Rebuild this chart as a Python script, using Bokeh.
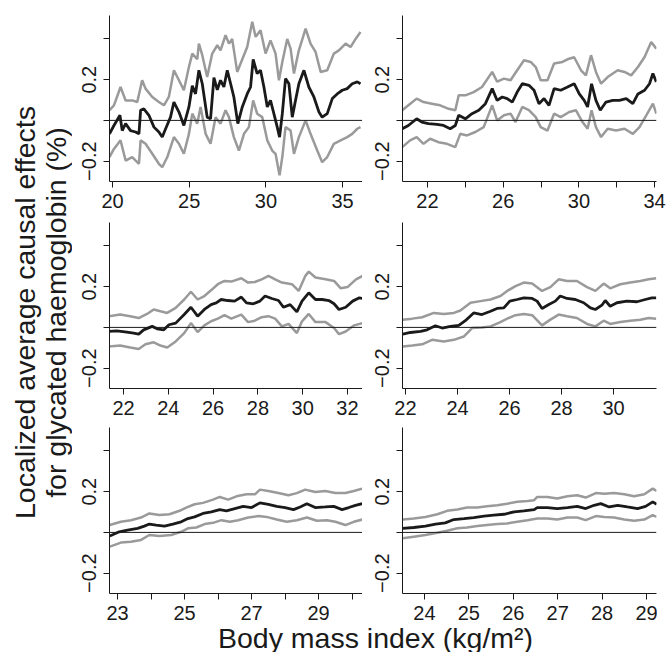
import math
from bokeh.plotting import figure
from bokeh.models import Range1d, FixedTicker, Span, Label
from bokeh.layouts import row, column
from bokeh.embed import file_html
from bokeh.resources import INLINE

# ---------------- data ----------------
# Panel 1
p1_bmi_est = [19.80, 20.09, 20.48, 20.63, 20.85, 21.17, 21.50, 21.72, 21.83, 22.04, 22.37, 22.70, 23.02, 23.24, 23.46, 23.78, 24.00, 24.33, 24.65, 24.98, 25.20, 25.41, 25.63, 25.85, 26.17, 26.39, 26.61, 26.83, 27.04, 27.26, 27.48, 27.70, 27.91, 28.17, 28.46, 28.78, 29.00, 29.17, 29.43, 29.65, 29.87, 30.09, 30.30, 30.52, 30.74, 30.89, 31.07, 31.28, 31.50, 31.72, 31.93, 32.15, 32.48, 32.80, 33.13, 33.46, 33.67, 34.00, 34.33, 34.65, 34.98, 35.30, 35.63, 35.96, 36.17]
p1_est = [-0.066, -0.025, 0.025, -0.05, -0.016, -0.05, -0.057, -0.066, 0.05, 0.057, 0.025, -0.033, -0.057, -0.082, -0.041, 0.016, 0.09, 0.041, -0.025, 0.066, 0.17, 0.13, 0.246, 0.18, 0.016, 0.008, 0.21, 0.15, 0.197, 0.164, 0.246, 0.18, 0.115, -0.016, 0.066, 0.13, 0.164, 0.30, 0.23, 0.246, 0.164, 0.066, 0.098, 0.033, -0.033, -0.082, 0.033, 0.205, 0.18, 0.016, 0.098, 0.18, 0.246, 0.164, 0.115, 0.041, 0.016, 0.033, 0.107, 0.13, 0.148, 0.156, 0.18, 0.189, 0.18]
p1_bmi_hi = [19.80, 20.09, 20.52, 20.85, 21.28, 21.61, 21.93, 22.15, 22.59, 23.02, 23.35, 23.67, 24.00, 24.33, 24.65, 24.98, 25.20, 25.52, 25.63, 25.85, 26.17, 26.50, 26.83, 27.04, 27.37, 27.59, 27.80, 28.13, 28.46, 28.78, 29.11, 29.33, 29.65, 29.98, 30.30, 30.63, 30.85, 31.07, 31.39, 31.61, 31.83, 32.15, 32.59, 32.91, 33.24, 33.57, 34.00, 34.43, 34.76, 35.20, 35.52, 35.85, 36.17]
p1_hi = [0.05, 0.074, 0.164, 0.098, 0.098, 0.09, 0.197, 0.156, 0.115, 0.09, 0.074, 0.115, 0.246, 0.197, 0.148, 0.262, 0.328, 0.30, 0.377, 0.32, 0.213, 0.328, 0.369, 0.344, 0.418, 0.377, 0.40, 0.238, 0.30, 0.36, 0.484, 0.41, 0.443, 0.328, 0.393, 0.328, 0.197, 0.287, 0.40, 0.352, 0.23, 0.344, 0.45, 0.377, 0.336, 0.238, 0.246, 0.328, 0.344, 0.377, 0.36, 0.40, 0.434]
p1_bmi_lo = [19.80, 20.09, 20.52, 20.85, 21.28, 21.72, 21.83, 22.15, 22.59, 23.02, 23.24, 23.57, 24.00, 24.33, 24.65, 24.98, 25.20, 25.52, 25.74, 26.07, 26.39, 26.72, 27.04, 27.37, 27.59, 27.91, 28.24, 28.57, 28.89, 29.17, 29.43, 29.76, 30.09, 30.41, 30.63, 30.89, 31.07, 31.28, 31.61, 31.83, 32.15, 32.59, 32.91, 33.35, 33.67, 34.00, 34.43, 34.87, 35.30, 35.63, 35.96, 36.17]
p1_lo = [-0.18, -0.14, -0.098, -0.197, -0.18, -0.213, -0.098, -0.115, -0.164, -0.213, -0.23, -0.18, -0.082, -0.115, -0.164, -0.066, 0.033, -0.016, 0.066, -0.066, -0.115, 0.016, -0.016, 0.05, 0.016, -0.082, -0.148, -0.066, -0.033, 0.098, 0.033, 0.016, -0.098, -0.148, -0.164, -0.27, -0.18, -0.033, -0.05, -0.164, -0.082, 0.0, -0.066, -0.148, -0.205, -0.18, -0.115, -0.098, -0.082, -0.066, -0.041, -0.033]

# Panel 2
p2_bmi_est = [20.67, 20.99, 21.43, 21.70, 22.05, 22.50, 22.85, 23.20, 23.47, 23.65, 24.00, 24.35, 24.71, 25.06, 25.42, 25.68, 25.95, 26.21, 26.48, 26.74, 27.01, 27.36, 27.63, 27.89, 28.16, 28.42, 28.69, 29.04, 29.40, 29.75, 30.02, 30.28, 30.46, 30.67, 30.90, 31.13, 31.43, 31.79, 32.14, 32.50, 32.85, 33.12, 33.47, 33.73, 33.91, 34.09]
p2_est = [-0.041, -0.025, 0.008, -0.008, -0.016, -0.02, -0.025, -0.041, -0.025, 0.025, 0.008, 0.033, 0.05, 0.082, 0.156, 0.098, 0.115, 0.107, 0.09, 0.139, 0.18, 0.172, 0.148, 0.082, 0.107, 0.074, 0.156, 0.148, 0.164, 0.18, 0.13, 0.098, 0.066, 0.18, 0.098, 0.05, 0.09, 0.098, 0.098, 0.107, 0.082, 0.13, 0.148, 0.18, 0.23, 0.189]
p2_bmi_hi = [20.67, 20.99, 21.43, 21.79, 22.23, 22.67, 23.12, 23.47, 23.65, 24.00, 24.44, 24.88, 25.42, 25.68, 26.04, 26.39, 26.74, 27.10, 27.45, 27.72, 27.98, 28.34, 28.69, 29.13, 29.40, 29.75, 30.11, 30.37, 30.64, 30.90, 31.17, 31.52, 32.05, 32.41, 32.76, 33.12, 33.47, 33.82, 34.09]
p2_hi = [0.05, 0.074, 0.107, 0.09, 0.082, 0.074, 0.057, 0.05, 0.123, 0.123, 0.139, 0.164, 0.238, 0.19, 0.205, 0.197, 0.246, 0.295, 0.287, 0.262, 0.197, 0.197, 0.279, 0.287, 0.30, 0.31, 0.246, 0.221, 0.32, 0.238, 0.18, 0.213, 0.246, 0.238, 0.221, 0.262, 0.311, 0.385, 0.352]
p2_bmi_lo = [20.67, 21.08, 21.43, 21.79, 22.14, 22.58, 23.03, 23.47, 23.73, 24.09, 24.53, 24.97, 25.42, 25.68, 26.04, 26.39, 26.65, 27.01, 27.36, 27.72, 27.98, 28.34, 28.69, 29.04, 29.49, 29.84, 30.19, 30.46, 30.67, 30.90, 31.17, 31.52, 31.96, 32.41, 32.85, 33.20, 33.56, 33.91, 34.09]
p2_lo = [-0.131, -0.098, -0.082, -0.115, -0.09, -0.107, -0.115, -0.131, -0.066, -0.074, -0.057, -0.033, 0.074, 0.0, 0.025, 0.033, -0.008, 0.066, 0.05, 0.016, -0.033, -0.05, 0.033, 0.016, 0.041, 0.05, -0.008, -0.041, 0.05, -0.033, -0.082, -0.041, -0.05, -0.041, -0.066, -0.033, 0.025, 0.082, 0.033]

# Panel 3
p3_bmi_est = [21.35, 21.70, 22.15, 22.45, 22.68, 22.90, 23.28, 23.50, 23.80, 24.03, 24.33, 24.71, 25.01, 25.31, 25.61, 25.91, 26.14, 26.36, 26.66, 26.96, 27.26, 27.49, 27.79, 28.09, 28.32, 28.62, 28.92, 29.14, 29.44, 29.74, 29.97, 30.27, 30.57, 30.87, 31.17, 31.40, 31.62, 31.92, 32.23, 32.53, 32.68]
p3_est = [-0.02, -0.017, -0.023, -0.028, -0.033, -0.012, 0.005, -0.007, -0.012, 0.013, 0.021, 0.063, 0.099, 0.055, 0.088, 0.112, 0.12, 0.137, 0.132, 0.129, 0.149, 0.12, 0.116, 0.129, 0.154, 0.142, 0.132, 0.099, 0.112, 0.076, 0.129, 0.17, 0.137, 0.137, 0.132, 0.116, 0.088, 0.099, 0.129, 0.145, 0.142]
p3_bmi_hi = [21.35, 21.85, 22.30, 22.68, 23.05, 23.35, 23.65, 23.95, 24.33, 24.71, 25.01, 25.31, 25.61, 25.91, 26.21, 26.51, 26.81, 27.26, 27.56, 27.86, 28.17, 28.47, 28.77, 29.07, 29.52, 29.82, 30.12, 30.27, 30.57, 31.02, 31.40, 31.70, 32.00, 32.38, 32.68]
p3_hi = [0.055, 0.063, 0.055, 0.046, 0.066, 0.088, 0.079, 0.071, 0.096, 0.137, 0.175, 0.137, 0.154, 0.182, 0.212, 0.228, 0.225, 0.241, 0.22, 0.223, 0.236, 0.253, 0.236, 0.22, 0.212, 0.179, 0.253, 0.274, 0.245, 0.236, 0.228, 0.192, 0.198, 0.236, 0.253]
p3_bmi_lo = [21.35, 21.85, 22.30, 22.68, 22.98, 23.35, 23.65, 23.95, 24.33, 24.71, 25.01, 25.31, 25.61, 25.91, 26.21, 26.51, 26.81, 27.26, 27.56, 27.86, 28.17, 28.47, 28.77, 29.07, 29.37, 29.74, 29.97, 30.27, 30.57, 31.02, 31.40, 31.62, 31.92, 32.30, 32.68]
p3_lo = [-0.094, -0.089, -0.099, -0.106, -0.083, -0.073, -0.089, -0.099, -0.069, -0.028, 0.021, -0.023, 0.01, 0.03, 0.043, 0.06, 0.043, 0.063, 0.026, 0.033, 0.05, 0.055, 0.043, 0.005, 0.017, -0.028, 0.03, 0.066, 0.026, 0.026, -0.003, -0.033, -0.02, 0.01, 0.021]

# Panel 4
p4_bmi_est = [21.90, 22.19, 22.58, 22.83, 23.15, 23.41, 23.73, 24.05, 24.30, 24.62, 24.94, 25.27, 25.52, 25.78, 26.01, 26.29, 26.55, 26.87, 27.06, 27.25, 27.51, 27.76, 27.95, 28.21, 28.53, 28.85, 29.11, 29.30, 29.55, 29.68, 29.87, 30.13, 30.51, 30.90, 31.22, 31.47, 31.64]
p4_est = [-0.033, -0.025, -0.02, -0.012, 0.008, -0.003, 0.005, 0.01, 0.033, 0.071, 0.063, 0.079, 0.093, 0.096, 0.129, 0.137, 0.145, 0.142, 0.129, 0.093, 0.112, 0.129, 0.154, 0.142, 0.137, 0.121, 0.096, 0.088, 0.109, 0.132, 0.104, 0.121, 0.129, 0.126, 0.137, 0.145, 0.145]
p4_bmi_hi = [21.90, 22.26, 22.64, 23.09, 23.47, 23.86, 24.11, 24.50, 24.88, 25.27, 25.65, 25.91, 26.23, 26.55, 26.87, 27.25, 27.57, 27.89, 28.21, 28.59, 28.98, 29.30, 29.62, 29.87, 30.26, 30.64, 31.03, 31.35, 31.64]
p4_hi = [0.038, 0.043, 0.05, 0.071, 0.066, 0.071, 0.083, 0.121, 0.129, 0.137, 0.154, 0.179, 0.203, 0.22, 0.215, 0.179, 0.198, 0.236, 0.228, 0.228, 0.198, 0.179, 0.215, 0.192, 0.212, 0.22, 0.228, 0.236, 0.241]
p4_bmi_lo = [21.90, 22.26, 22.64, 23.02, 23.47, 23.86, 24.24, 24.56, 24.94, 25.27, 25.65, 25.91, 26.23, 26.55, 26.87, 27.25, 27.57, 27.89, 28.21, 28.59, 28.98, 29.30, 29.62, 29.87, 30.26, 30.64, 31.03, 31.35, 31.64]
p4_lo = [-0.094, -0.089, -0.083, -0.061, -0.069, -0.061, -0.045, -0.003, 0.0, 0.005, 0.026, 0.043, 0.06, 0.066, 0.06, 0.01, 0.038, 0.063, 0.055, 0.046, 0.017, 0.005, 0.033, 0.017, 0.026, 0.033, 0.038, 0.046, 0.043]

# Panel 5
p5_bmi_est = [22.77, 23.05, 23.30, 23.60, 23.80, 23.95, 24.15, 24.40, 24.65, 24.90, 25.10, 25.30, 25.55, 25.80, 26.05, 26.25, 26.50, 26.75, 27.00, 27.25, 27.50, 27.75, 28.00, 28.25, 28.45, 28.65, 28.90, 29.20, 29.45, 29.70, 29.90, 30.10, 30.30]
p5_est = [-0.018, 0.003, 0.011, 0.02, 0.031, 0.041, 0.036, 0.031, 0.041, 0.052, 0.068, 0.076, 0.093, 0.101, 0.112, 0.106, 0.117, 0.128, 0.122, 0.145, 0.138, 0.128, 0.122, 0.112, 0.125, 0.141, 0.122, 0.125, 0.128, 0.112, 0.122, 0.133, 0.141]
p5_bmi_hi = [22.77, 23.10, 23.40, 23.70, 23.95, 24.25, 24.55, 24.85, 25.05, 25.30, 25.55, 25.85, 26.05, 26.30, 26.55, 26.85, 27.10, 27.25, 27.50, 27.80, 28.10, 28.35, 28.60, 28.90, 29.20, 29.50, 29.80, 30.05, 30.30]
p5_hi = [0.036, 0.052, 0.06, 0.073, 0.093, 0.085, 0.089, 0.106, 0.122, 0.138, 0.145, 0.161, 0.174, 0.161, 0.177, 0.187, 0.187, 0.21, 0.203, 0.193, 0.182, 0.193, 0.21, 0.198, 0.203, 0.193, 0.193, 0.203, 0.215]
p5_bmi_lo = [22.77, 23.10, 23.40, 23.70, 23.95, 24.25, 24.60, 24.90, 25.10, 25.35, 25.60, 25.85, 26.10, 26.35, 26.60, 26.90, 27.20, 27.45, 27.75, 28.05, 28.35, 28.65, 28.95, 29.25, 29.50, 29.80, 30.05, 30.30]
p5_lo = [-0.07, -0.05, -0.046, -0.037, -0.013, -0.018, -0.013, 0.003, 0.02, 0.024, 0.041, 0.047, 0.06, 0.052, 0.06, 0.073, 0.08, 0.076, 0.063, 0.052, 0.06, 0.073, 0.057, 0.06, 0.052, 0.036, 0.052, 0.063]

# Panel 6
p6_bmi_est = [23.51, 23.76, 24.02, 24.25, 24.47, 24.66, 24.89, 25.11, 25.34, 25.56, 25.79, 26.02, 26.24, 26.47, 26.54, 26.77, 26.99, 27.22, 27.44, 27.63, 27.82, 27.97, 28.16, 28.35, 28.57, 28.80, 28.98, 29.14, 29.23]
p6_est = [0.02, 0.024, 0.031, 0.041, 0.047, 0.063, 0.068, 0.073, 0.08, 0.085, 0.089, 0.101, 0.106, 0.112, 0.122, 0.122, 0.117, 0.122, 0.128, 0.117, 0.133, 0.141, 0.125, 0.133, 0.125, 0.117, 0.128, 0.15, 0.138]
p6_bmi_hi = [23.51, 23.76, 24.02, 24.29, 24.51, 24.74, 24.96, 25.19, 25.41, 25.64, 25.86, 26.09, 26.32, 26.47, 26.54, 26.77, 26.99, 27.22, 27.44, 27.63, 27.86, 28.05, 28.27, 28.50, 28.72, 28.95, 29.14, 29.23]
p6_hi = [0.063, 0.068, 0.076, 0.089, 0.106, 0.112, 0.122, 0.122, 0.128, 0.133, 0.141, 0.15, 0.154, 0.158, 0.174, 0.174, 0.166, 0.177, 0.182, 0.171, 0.193, 0.19, 0.193, 0.187, 0.177, 0.187, 0.215, 0.203]
p6_bmi_lo = [23.51, 23.76, 24.02, 24.29, 24.51, 24.74, 24.96, 25.19, 25.41, 25.64, 25.86, 26.09, 26.32, 26.54, 26.77, 26.99, 27.22, 27.44, 27.63, 27.86, 28.05, 28.27, 28.50, 28.72, 28.95, 29.14, 29.23]
p6_lo = [-0.029, -0.021, -0.013, -0.002, 0.008, 0.02, 0.024, 0.031, 0.036, 0.041, 0.044, 0.052, 0.06, 0.068, 0.068, 0.063, 0.073, 0.073, 0.06, 0.08, 0.076, 0.073, 0.063, 0.057, 0.063, 0.085, 0.076]

# axis extents and ticks per panel
x_limits = [(19.80, 36.30), (20.68, 34.10), (21.375, 32.67), (21.885, 31.65), (22.76, 30.31), (23.505, 29.225)]
x_ticks = [
    [20, 25, 30, 35],
    [22, 24, 26, 28, 30, 32, 34],
    [22, 24, 26, 28, 30, 32],
    [22, 24, 26, 28, 30],
    [23, 24, 25, 26, 27, 28, 29, 30],
    [24, 25, 26, 27, 28, 29],
]
x_tick_labels = [
    ["20", "25", "30", "35"],
    ["22", "", "26", "", "30", "", "34"],
    ["22", "24", "26", "28", "30", "32"],
    ["22", "24", "26", "28", "30"],
    ["23", "", "25", "", "27", "", "29", ""],
    ["24", "25", "26", "27", "28", "29"],
]
y_ticks = [-0.2, 0.0, 0.2, 0.4]
y_tick_labels = ["\u22120.2", "", "0.2", ""]
y_limits = (-0.30, 0.515)

y_title_lines = ["Localized average causal effects", "for glycated haemoglobin (%)"]
x_title = "Body mass index (kg/m\u00b2)"

# ---------------- styling ----------------
FONT = "Liberation Sans"
INK = "#1a1a1a"
GREY = "#9a9a9a"
TICK_FONT = "20px"
TITLE_FONT = "28.5px"

series = [
    (p1_bmi_est, p1_est, p1_bmi_hi, p1_hi, p1_bmi_lo, p1_lo),
    (p2_bmi_est, p2_est, p2_bmi_hi, p2_hi, p2_bmi_lo, p2_lo),
    (p3_bmi_est, p3_est, p3_bmi_hi, p3_hi, p3_bmi_lo, p3_lo),
    (p4_bmi_est, p4_est, p4_bmi_hi, p4_hi, p4_bmi_lo, p4_lo),
    (p5_bmi_est, p5_est, p5_bmi_hi, p5_hi, p5_bmi_lo, p5_lo),
    (p6_bmi_est, p6_est, p6_bmi_hi, p6_hi, p6_bmi_lo, p6_lo),
]

FRAME_H = 166
row_borders = [(15, 39), (2, 37), (2, 36)]      # (top, bottom) per row
col_geom = [(290, 37, 0), (304, 40, 10)]         # (width, left, right) per column
YT_W = 72


def make_panel(i):
    r, c = divmod(i, 2)
    top, bottom = row_borders[r]
    width, left, right = col_geom[c]
    p = figure(
        width=width, height=top + FRAME_H + bottom,
        x_range=Range1d(*x_limits[i]), y_range=Range1d(*y_limits),
        output_backend="svg", toolbar_location=None,
        min_border_left=left, min_border_right=right,
        min_border_top=top, min_border_bottom=bottom,
    )
    p.outline_line_color = None
    p.grid.visible = False
    p.background_fill_color = "white"
    p.border_fill_color = "white"

    xa, ya = p.xaxis[0], p.yaxis[0]
    xa.ticker = FixedTicker(ticks=x_ticks[i])
    xa.major_label_overrides = {t: l for t, l in zip(x_ticks[i], x_tick_labels[i])}
    ya.ticker = FixedTicker(ticks=y_ticks)
    ya.major_label_overrides = {t: l for t, l in zip(y_ticks, y_tick_labels)}
    ya.major_label_orientation = "parallel"
    for ax in (xa, ya):
        ax.minor_tick_line_color = None
        ax.major_tick_in = 0
        ax.major_tick_out = 6
        ax.axis_line_color = INK
        ax.major_tick_line_color = INK
        ax.major_label_text_font = FONT
        ax.major_label_text_font_size = TICK_FONT
        ax.major_label_text_color = INK
    xa.major_label_standoff = 6
    ya.major_label_standoff = 7

    p.add_layout(Span(location=0, dimension="width", line_color=INK, line_width=1))

    bx, by, hx, hy, lx, ly = series[i]
    p.line(hx, hy, line_color=GREY, line_width=2.5)
    p.line(lx, ly, line_color=GREY, line_width=2.5)
    p.line(bx, by, line_color=INK, line_width=2.8)
    return p


panels = [make_panel(i) for i in range(6)]

# y title (spans the three rows); anchors are the text centres
TOTAL_H = 652
ytitle = figure(width=YT_W, height=TOTAL_H, x_range=Range1d(0, YT_W), y_range=Range1d(0, TOTAL_H),
                x_axis_location=None, y_axis_location=None, min_border=0,
                output_backend="svg", toolbar_location=None)
ytitle.outline_line_color = None
ytitle.grid.visible = False
for xpos, txt in zip([24, 55], y_title_lines):
    ytitle.add_layout(Label(x=xpos, y=TOTAL_H - 312, text=txt, angle=math.pi / 2,
                            text_align="center", text_baseline="middle",
                            text_font=FONT, text_font_size=TITLE_FONT, text_color=INK))

# x title (spans both columns)
XT_W = col_geom[0][0] + col_geom[1][0]
XT_H = 32
xtitle = figure(width=XT_W, height=XT_H, x_range=Range1d(0, XT_W), y_range=Range1d(0, XT_H),
                x_axis_location=None, y_axis_location=None, min_border=0,
                output_backend="svg", toolbar_location=None)
xtitle.outline_line_color = None
xtitle.grid.visible = False
xtitle.background_fill_color = None
xtitle.border_fill_color = None
xtitle.margin = (-9, 0, 0, 0)
xtitle.add_layout(Label(x=375 - YT_W, y=15, text=x_title, text_align="center",
                        text_baseline="middle", text_font=FONT,
                        text_font_size=TITLE_FONT, text_color=INK))

grid = column(row(panels[0], panels[1]), row(panels[2], panels[3]),
              row(panels[4], panels[5]), xtitle)
layout = row(ytitle, grid)

open("out.html", "w").write(file_html(layout, INLINE))
